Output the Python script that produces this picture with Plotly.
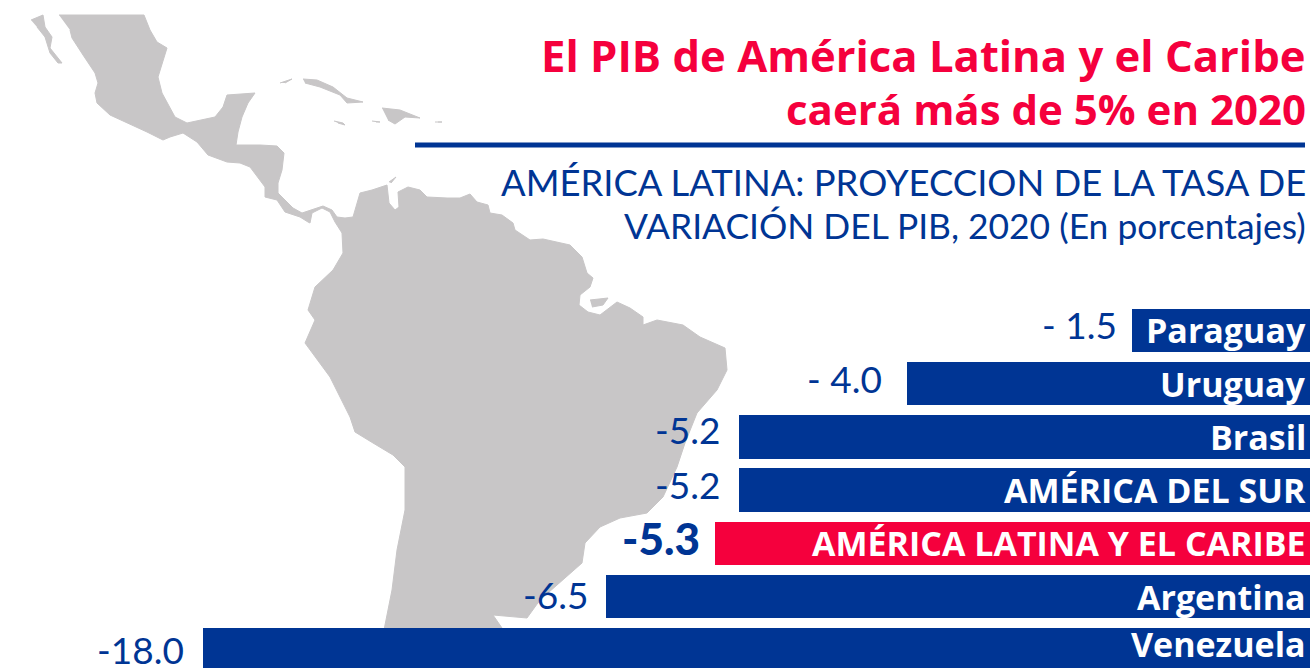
import plotly.graph_objects as go

# ---------- data ----------
names = ["Paraguay", "Uruguay", "Brasil", "AMÉRICA DEL SUR",
         "AMÉRICA LATINA Y EL CARIBE", "Argentina", "Venezuela"]
value_labels = ["- 1.5", "- 4.0", "-5.2", "-5.2", "-5.3", "-6.5", "-18.0"]
# drawn bar lengths (the graphic is not to scale)
bar_lengths = [178, 403, 571, 571, 595, 704, 1107]

title_lines = ["El PIB de América Latina y el Caribe", "caerá más de 5% en 2020"]
subtitle_lines = ["AMÉRICA LATINA: PROYECCION DE LA TASA DE",
                  "VARIACIÓN DEL PIB, 2020 (En porcentajes)"]

# background map outline
mainland_x = [59,144,150,157,167,163,158,162,170,175,187,200,215,223,227,255,248,242,238,236,260,277,284,282,278,278,285,293,302,313,323,332,337,345,353,360,372,387,389,395,399,398,408,420,427,447,460,470,477,488,490,502,513,515,530,543,570,582,587,593,590,580,579,588,600,617,630,643,643,657,683,700,725,727,717,697,685,677,663,647,620,600,585,582,563,540,527,513,493,502,510,382,392,397,405,405,393,373,355,350,330,305,315,308,315,333,343,342,335,330,322,312,310,308,300,285,277,265,265,250,240,227,208,197,183,170,163,147,127,110,97,95,98,95,83,72,70]
mainland_y = [15,15,30,42,48,60,77,93,107,117,123,120,117,107,95,93,103,117,132,145,145,146,153,170,183,193,200,208,213,209,206,210,217,218,217,193,190,185,203,210,207,192,187,190,197,198,198,194,202,205,213,215,223,230,240,239,245,257,273,278,287,295,305,312,315,302,308,317,325,320,325,337,348,370,390,413,443,467,497,513,518,527,543,563,580,600,618,617,615,628,640,640,590,550,510,467,455,443,432,417,377,343,320,310,287,270,253,233,222,212,208,213,223,222,217,212,200,197,187,167,163,162,155,142,133,137,140,132,123,115,103,93,83,73,55,38,30]
baja_x = [31,43,45,52,50,62,58,50,45,37]
baja_y = [20,15,27,37,48,63,63,53,37,27]
cuba_x = [303,317,333,347,363,347,340,320,305]
cuba_y = [79,80,87,98,102,103,95,87,83]
cuba_west_x = [280,292,285]
cuba_west_y = [83,79,83]
jamaica_x = [334,343,345,338]
jamaica_y = [121,123,125,123]
hispaniola_x = [382,400,420,405,395,388]
hispaniola_y = [108,110,118,117,124,120]
cayman_x = [372,380,376]
cayman_y = [121,122,122]
puerto_rico_x = [435,442,438]
puerto_rico_y = [122,122,122]
trinidad_x = [389,396,391]
trinidad_y = [182,177,183]
marajo_x = [590,608,603,592]
marajo_y = [300,298,305,307]

map_parts = [(mainland_x, mainland_y), (baja_x, baja_y), (cuba_x, cuba_y),
             (cuba_west_x, cuba_west_y), (jamaica_x, jamaica_y),
             (hispaniola_x, hispaniola_y), (cayman_x, cayman_y),
             (puerto_rico_x, puerto_rico_y), (trinidad_x, trinidad_y),
             (marajo_x, marajo_y)]

# ---------- style ----------
BLUE = "#003594"
RED = "#F5003D"
GRAY = "#C8C6C7"
label_gaps = [13, 23, 17, 17, 13, 16, 17]
label_shifts = [6, 5, 7, 6, 5, 2, 0]
name_shifts = [0, 0, 0, 0, 0, 0, 6]
title_sizes = [43.6, 42]
title_rows = [55, 108]
subtitle_sizes = [36.4, 35.4]
subtitle_rows = [182, 225]
HEAD_FONT = "Lato"
TITLE_FONT = "Open Sans"
BAR_FONT = "Open Sans"

fig = go.Figure()

for xs, ys in map_parts:
    fig.add_trace(go.Scatter(x=xs, y=ys, mode="lines", fill="toself",
                             fillcolor=GRAY, line=dict(color=GRAY, width=1),
                             hoverinfo="skip", showlegend=False,
                             xaxis="x", yaxis="y"))

colors = [RED if n == "AMÉRICA LATINA Y EL CARIBE" else BLUE for n in names]
fig.add_trace(go.Bar(x=bar_lengths, y=names, orientation="h", width=0.818,
                     marker=dict(color=colors, line=dict(width=0)),
                     cliponaxis=False, showlegend=False, hoverinfo="skip",
                     xaxis="x2", yaxis="y2"))

annotations = []
for name, label, length, gap, shift, nshift in zip(names, value_labels, bar_lengths,
                                                   label_gaps, label_shifts, name_shifts):
    strong = name == "AMÉRICA LATINA Y EL CARIBE"
    annotations.append(dict(x=length + gap, y=name, xref="x2", yref="y2",
                            text=label, showarrow=False, xanchor="right",
                            yanchor="middle", yshift=shift,
                            font=dict(family=HEAD_FONT, size=44 if strong else 37,
                                      color=BLUE, weight=900 if strong else 400)))
    annotations.append(dict(x=2, y=name, xref="x2", yref="y2",
                            text=name, showarrow=False, xanchor="right",
                            yanchor="middle", yshift=nshift,
                            font=dict(family=BAR_FONT, size=34, color="white", weight=700)))
for line, ypos, size in zip(title_lines, title_rows, title_sizes):
    annotations.append(dict(x=1308, y=ypos, xref="x", yref="y", text=line,
                            showarrow=False, xanchor="right", yanchor="middle",
                            font=dict(family=TITLE_FONT, size=size, color=RED, weight=700)))
for line, ypos, size in zip(subtitle_lines, subtitle_rows, subtitle_sizes):
    annotations.append(dict(x=1308, y=ypos, xref="x", yref="y", text=line,
                            showarrow=False, xanchor="right", yanchor="middle",
                            font=dict(family=HEAD_FONT, size=size, color=BLUE)))

fig.update_layout(
    width=1310, height=668, autosize=False,
    margin=dict(l=0, r=0, t=0, b=0),
    paper_bgcolor="white", plot_bgcolor="white",
    showlegend=False, bargap=0,
    xaxis=dict(range=[0, 1310], visible=False, fixedrange=True),
    yaxis=dict(range=[668, 0], visible=False, fixedrange=True),
    xaxis2=dict(range=[1310, 0], visible=False, overlaying="x", fixedrange=True),
    yaxis2=dict(type="category", categoryorder="array", categoryarray=names,
                range=[6.344, -6.212], visible=False, overlaying="y", fixedrange=True),
    annotations=annotations,
    shapes=[dict(type="line", xref="x", yref="y", x0=415, x1=1305, y0=145, y1=145,
                 line=dict(color=BLUE, width=5))],
)

fig.write_html("out.html", config=dict(displayModeBar=False),
               post_script="document.body.style.margin='0';document.body.style.overflow='hidden';")
